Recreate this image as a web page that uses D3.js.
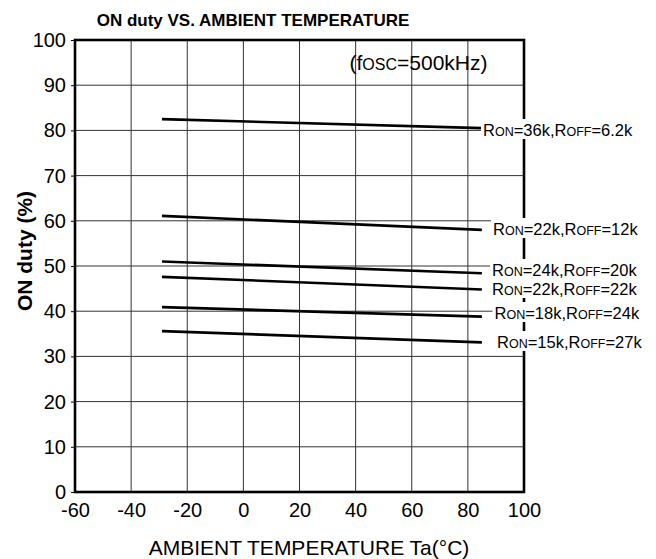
<!DOCTYPE html>
<html><head><meta charset="utf-8">
<script src="https://cdn.jsdelivr.net/npm/d3@7"></script>
<style>body{margin:0;background:#fff}svg{display:block}text{font-family:"Liberation Sans",Arial,sans-serif}</style>
</head><body>
<script>
const xTicks=[-60,-40,-20,0,20,40,60,80,100];
const yTicks=[0,10,20,30,40,50,60,70,80,90,100];
const temps=[-29,85];
const sRon36Roff6=[82.5,80.5];
const sRon22Roff12=[61.1,58.0];
const sRon24Roff20=[51.0,48.4];
const sRon22Roff22=[47.6,44.8];
const sRon18Roff24=[40.9,38.8];
const sRon15Roff27=[35.6,33.1];
const seriesNames=[["36k","6.2k"],["22k","12k"],["24k","20k"],["22k","22k"],["18k","24k"],["15k","27k"]];
const seriesVals=[sRon36Roff6,sRon22Roff12,sRon24Roff20,sRon22Roff22,sRon18Roff24,sRon15Roff27];
const labelPos=[[483,136],[493,235],[492,276],[492,295],[494.5,319],[497,348]];

const W=656,H=559,L=75,R=524,T=40,B=492;
const svg=d3.select("body").append("svg").attr("width",W).attr("height",H);
const x=d3.scaleLinear().domain([-60,100]).range([L,R]);
const y=d3.scaleLinear().domain([0,100]).range([B,T]);

// grid
svg.append("g").selectAll("line").data(xTicks.slice(1,-1)).join("line")
 .attr("x1",d=>x(d)).attr("x2",d=>x(d)).attr("y1",T).attr("y2",B)
 .attr("stroke","#333").attr("stroke-width",1);
svg.append("g").selectAll("line").data(yTicks.slice(1,-1)).join("line")
 .attr("y1",d=>y(d)).attr("y2",d=>y(d)).attr("x1",L).attr("x2",R)
 .attr("stroke","#333").attr("stroke-width",1);

// axes
const ya=svg.append("g").attr("transform",`translate(${L},0)`)
 .call(d3.axisLeft(y).tickValues(yTicks).tickFormat(d=>String(d)).tickSize(4).tickPadding(5));
ya.selectAll("text").attr("font-size",20).attr("fill","#000");
const xa=svg.append("g").attr("transform",`translate(0,${B})`)
 .call(d3.axisBottom(x).tickValues(xTicks).tickFormat(d=>String(d)).tickSize(0).tickPadding(11));
xa.selectAll("text").attr("font-size",20).attr("fill","#000");
svg.selectAll(".domain").remove();
svg.append("rect").attr("x",L).attr("y",T).attr("width",R-L).attr("height",B-T)
 .attr("fill","none").attr("stroke","#000").attr("stroke-width",2.6);

// series
const line=d3.line().x((d,i)=>x(temps[i])).y(d=>y(d));
svg.append("g").selectAll("path").data(seriesVals).join("path")
 .attr("d",line).attr("fill","none").attr("stroke","#000").attr("stroke-width",2.6);

// labels
seriesNames.forEach((n,i)=>{
  const [lx,ly]=labelPos[i];
  const t=svg.append("text").attr("x",lx).attr("y",ly).attr("font-size",16.5);
  t.append("tspan").text("R");
  t.append("tspan").attr("font-size",12.5).text("ON");
  t.append("tspan").text("="+n[0]+",R");
  t.append("tspan").attr("font-size",12.5).text("OFF");
  t.append("tspan").text("="+n[1]);
  const bb=t.node().getBBox();
  svg.insert("rect",()=>t.node()).attr("x",bb.x-2).attr("y",bb.y-2).attr("width",bb.width+2).attr("height",bb.height+2).attr("fill","#fff");
});

// fosc
const ft=svg.append("text").attr("x",418.5).attr("y",70).attr("text-anchor","middle").attr("font-size",21);
ft.append("tspan").text("(f");
ft.append("tspan").attr("font-size",16).text("OSC");
ft.append("tspan").text("=500kHz)");

// titles
svg.append("text").attr("x",253).attr("y",26).attr("text-anchor","middle").attr("font-size",17).attr("font-weight","bold").text("ON duty VS. AMBIENT TEMPERATURE");
svg.append("text").attr("x",309).attr("y",555).attr("text-anchor","middle").attr("font-size",21).text("AMBIENT TEMPERATURE Ta(°C)");
svg.append("text").attr("transform","translate(32,251) rotate(-90)").attr("text-anchor","middle").attr("font-size",21).attr("font-weight","bold").text("ON duty (%)");
</script>
</body></html>
